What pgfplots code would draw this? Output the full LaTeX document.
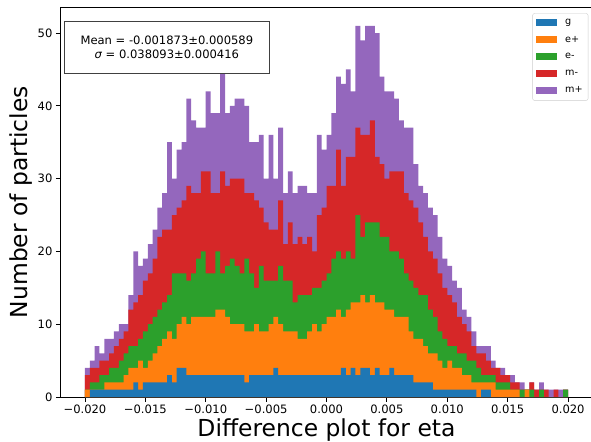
\documentclass[border=0pt]{standalone}
\usepackage{fontspec}
\setmainfont{DejaVu Sans}
\usepackage{pgfplots}
\usepackage{pgfplotstable}
\pgfplotsset{compat=1.18}
\definecolor{mplblue}{HTML}{1F77B4}
\definecolor{mplorange}{HTML}{FF7F0E}
\definecolor{mplgreen}{HTML}{2CA02C}
\definecolor{mplred}{HTML}{D62728}
\definecolor{mplpurple}{HTML}{9467BD}
% cumulative (stacked) bin heights, left bin edges; last row closes the last bin
\pgfplotstableread{
x g ep em mm mp
-0.0200 0 1 1 3 4
-0.0196 1 1 2 4 5
-0.0192 1 1 2 4 7
-0.0188 1 1 3 5 6
-0.0184 1 2 3 5 8
-0.0180 1 2 4 6 8
-0.0176 1 2 4 7 9
-0.0172 1 2 5 8 10
-0.0168 1 3 6 9 10
-0.0164 1 4 7 12 14
-0.0160 2 4 7 13 20
-0.0156 1 5 8 14 18
-0.0152 2 4 9 16 19
-0.0148 2 5 10 17 21
-0.0144 2 6 11 19 23
-0.0140 2 7 12 22 26
-0.0136 2 8 13 23 28
-0.0132 3 9 14 23 35
-0.0128 2 8 17 25 30
-0.0124 4 10 17 26 34
-0.0120 4 11 17 27 35
-0.0116 3 10 16 29 41
-0.0112 3 11 17 28 38
-0.0108 3 11 19 28 37
-0.0104 3 11 20 31 37
-0.0100 3 11 17 31 42
-0.0096 3 11 17 28 39
-0.0092 3 12 20 28 39
-0.0088 3 12 17 31 45
-0.0084 3 11 18 29 39
-0.0080 3 10 19 30 40
-0.0076 3 10 18 30 41
-0.0072 3 10 17 30 41
-0.0068 2 9 19 28 40
-0.0064 3 9 17 28 35
-0.0060 3 10 15 27 35
-0.0056 3 9 18 26 36
-0.0052 3 9 16 24 30
-0.0048 3 10 16 23 36
-0.0044 4 11 16 23 30
-0.0040 3 10 18 27 37
-0.0036 3 9 16 21 28
-0.0032 3 9 16 24 31
-0.0028 3 9 13 21 28
-0.0024 3 8 14 22 29
-0.0020 3 8 14 21 29
-0.0016 3 9 14 22 28
-0.0012 3 10 15 20 28
-0.0008 3 9 15 25 36
-0.0004 3 10 16 26 34
0.0000 3 11 17 29 36
0.0004 3 11 19 29 39
0.0008 3 12 20 34 44
0.0012 4 11 19 29 43
0.0016 3 12 20 33 45
0.0020 4 13 19 33 42
0.0024 3 13 25 37 51
0.0028 4 14 22 36 49
0.0032 4 13 24 36 51
0.0036 3 14 24 38 51
0.0040 4 13 24 33 50
0.0044 3 13 22 32 44
0.0048 3 12 22 30 42
0.0052 4 12 20 31 42
0.0056 3 11 20 31 41
0.0060 3 11 19 31 38
0.0064 3 11 17 28 37
0.0068 3 9 16 27 37
0.0072 2 8 15 26 32
0.0076 2 8 14 24 29
0.0080 2 7 14 22 28
0.0084 2 6 12 20 26
0.0088 1 6 11 19 25
0.0092 1 5 9 17 22
0.0096 1 4 8 15 19
0.0100 1 5 7 14 18
0.0104 1 4 7 13 16
0.0108 1 4 6 11 15
0.0112 1 3 6 10 12
0.0116 1 3 5 9 11
0.0120 1 2 5 7 9
0.0124 0 2 4 6 7
0.0128 1 2 3 6 7
0.0132 1 2 3 5 7
0.0136 0 2 3 4 5
0.0140 0 1 2 4 4
0.0144 0 1 2 3 4
0.0148 0 1 2 3 3
0.0152 0 1 1 2 3
0.0156 0 1 1 2 2
0.0160 0 0 1 1 2
0.0164 0 1 1 1 1
0.0168 0 0 1 2 2
0.0172 0 0 0 1 1
0.0176 0 0 1 1 2
0.0180 0 0 0 1 1
0.0184 0 0 0 0 1
0.0188 0 0 0 1 1
0.0192 0 0 0 0 1
0.0196 0 0 1 1 1
0.0200 0 0 1 1 1
}\hist
\begin{document}
\begin{tikzpicture}
\path[use as bounding box] (-60.8bp,-45bp) rectangle (530.2bp,397bp);
\begin{axis}[
  at={(0,0)}, anchor=south west,
  scale only axis, width=531.4bp, height=389.8bp,
  xmin=-0.022, xmax=0.022, ymin=0, ymax=53.55,
  scaled ticks=false,
  xtick={-0.02,-0.015,-0.01,-0.005,0,0.005,0.01,0.015,0.02},
  xticklabels={−0.020,−0.015,−0.010,−0.005,0.000,0.005,0.010,0.015,0.020},
  ytick={0,10,20,30,40,50},
  yticklabels={0,10,20,30,40,50},
  xtick pos=left, ytick pos=left,
  tick align=outside, major tick length=4.9bp,
  tick style={black, line width=0.9bp},
  axis line style={black, line width=0.9bp},
  ticklabel style={font=\fontsize{11.6}{13}\selectfont},
  xlabel={Difference plot for eta},
  ylabel={Number of particles},
  label style={font=\fontsize{23.5}{26}\selectfont},
  xlabel style={at={(axis description cs:0.5,-0.1003)}, anchor=base},
  ylabel style={at={(axis description cs:-0.0636,0.5)}, anchor=base},
  reverse legend,
  legend cell align=left,
  legend image code/.code={\fill[#1, draw=none, sharp corners] (0bp,-3.5bp) rectangle (21bp,3.5bp); \path (27bp,0bp);},
  legend style={at={(axis description cs:1,1)}, anchor=north east,
    xshift=-3.9bp, yshift=-6.1bp, draw=black!20, rounded corners=2bp,
    font=\fontsize{9.7}{11}\selectfont, row sep=5.8bp,
    inner xsep=3.5bp, inner ysep=4bp},
]
\addplot[const plot mark left, fill=mplpurple, draw=none] table[x=x,y=mp]{\hist} \closedcycle;
\addlegendentry{m+}
\addplot[const plot mark left, fill=mplred, draw=none] table[x=x,y=mm]{\hist} \closedcycle;
\addlegendentry{m-}
\addplot[const plot mark left, fill=mplgreen, draw=none] table[x=x,y=em]{\hist} \closedcycle;
\addlegendentry{e-}
\addplot[const plot mark left, fill=mplorange, draw=none] table[x=x,y=ep]{\hist} \closedcycle;
\addlegendentry{e+}
\addplot[const plot mark left, fill=mplblue, draw=none] table[x=x,y=g]{\hist} \closedcycle;
\addlegendentry{g}
\node[draw=black!75, line width=0.8bp, fill=white, anchor=north west, align=center,
  font=\fontsize{11.6}{14}\selectfont, minimum width=205bp, minimum height=52bp, inner sep=0pt]
  at (rel axis cs:0.006,0.9646) {Mean = -0.001873±0.000589\\{\itshape σ} = 0.038093±0.000416};
\end{axis}
\end{tikzpicture}
\end{document}
